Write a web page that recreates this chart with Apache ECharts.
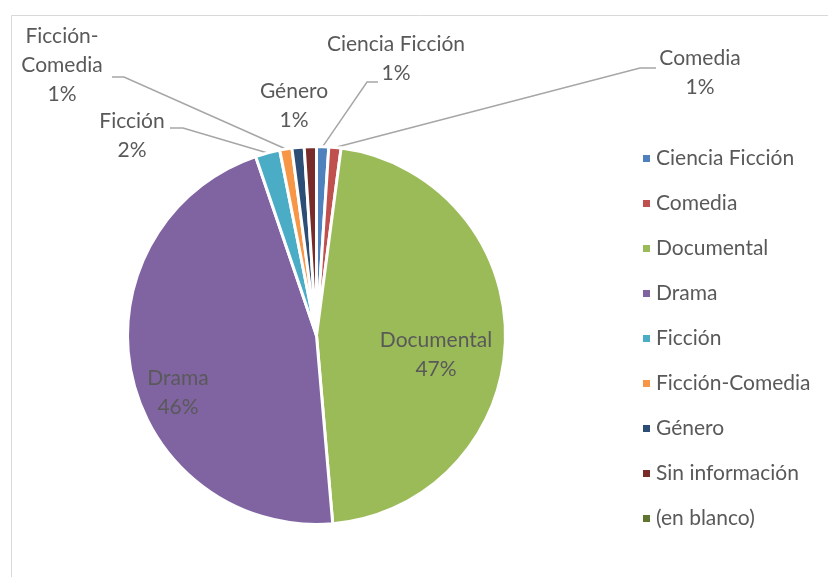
<!DOCTYPE html>
<html>
<head>
    <meta charset="utf-8">
    <title>Géneros</title>
    <script src="https://cdn.jsdelivr.net/npm/echarts@6/dist/echarts.min.js"></script>
    <style>
        html, body { margin: 0; padding: 0; background: #fff; }
        #chart { width: 828px; height: 577px; }
    </style>
</head>
<body>
<div id="chart"></div>
<script>
    // categorias (leyenda) y texto de etiqueta
    var categorias = ['Ciencia Ficción', 'Comedia', 'Documental', 'Drama', 'Ficción',
        'Ficción-Comedia', 'Género', 'Sin información', '(en blanco)'];
    var etiquetas = ['Ciencia Ficción', 'Comedia', 'Documental', 'Drama', 'Ficción',
        'Ficción-\nComedia', 'Género', 'Sin información', '(en blanco)'];
    // porcentaje aproximado
    var valores = [1.04, 1.04, 46.6, 46.2, 2.1, 1.04, 1.04, 1.04, 0];
    var colores = ['#4F81BD', '#C0504D', '#9BBB59', '#8064A2', '#4BACC6',
        '#F79646', '#2C4D75', '#772C2A', '#5F7530'];

    // donde va cada etiqueta (centro del texto)
    var posEtiqueta = {
        'Ciencia Ficción': [396, 59],
        'Comedia': [700, 73],
        'Documental': [436, 355],
        'Drama': [178, 393],
        'Ficción': [132, 136],
        'Ficción-Comedia': [62, 65],
        'Género': [294, 106]
    };
    // codo y final de la linea guia (el inicio lo pone la libreria en el sector)
    var codoLinea = {
        'Ciencia Ficción': [[367, 82], [378, 82]],
        'Comedia': [[640, 68], [656, 68]],
        'Ficción': [[183, 128], [170, 128]],
        'Ficción-Comedia': [[124, 77], [112, 77]]
    };
    var dentro = ['Documental', 'Drama'];
    var sinLinea = ['Género'];
    var ocultas = ['Sin información', '(en blanco)'];

    var fuente = 'Lato, "Open Sans", sans-serif';
    var gris = '#595959';

    var datos = categorias.map(function (c, i) {
        var item = { name: c, value: valores[i], itemStyle: { color: colores[i] } };
        if (ocultas.indexOf(c) >= 0) {
            item.label = { show: false };
            item.labelLine = { show: false };
        } else if (dentro.indexOf(c) >= 0) {
            item.label = { position: 'inside' };
            item.labelLine = { show: false };
        } else if (sinLinea.indexOf(c) >= 0) {
            item.labelLine = { show: false };
        }
        return item;
    });

    var myChart = echarts.init(document.getElementById('chart'));
    myChart.setOption({
        animation: false,
        graphic: [{
            type: 'rect',
            shape: { x: 11.5, y: 15.5, width: 900, height: 700 },
            style: { fill: 'none', stroke: '#D9D9D9', lineWidth: 1 },
            silent: true,
            z: -1
        }],
        legend: {
            orient: 'vertical',
            left: 636,
            top: 143,
            itemWidth: 9,
            itemHeight: 9,
            itemGap: 24,
            icon: 'rect',
            data: categorias,
            textStyle: { fontFamily: fuente, fontSize: 21, color: gris }
        },
        series: [{
            type: 'pie',
            center: [316.5, 335.5],
            radius: 189,
            startAngle: 90,
            clockwise: true,
            avoidLabelOverlap: false,
            data: datos,
            itemStyle: { borderColor: '#fff', borderWidth: 3 },
            label: {
                show: true,
                position: 'outside',
                fontFamily: fuente,
                fontSize: 21,
                lineHeight: 29,
                color: gris,
                align: 'center',
                formatter: function (p) {
                    return etiquetas[p.dataIndex] + '\n' + Math.round(p.percent) + '%';
                }
            },
            labelLine: {
                show: true,
                length: 20,
                length2: 10,
                lineStyle: { color: '#A6A6A6', width: 1.5 }
            },
            labelLayout: function (params) {
                var nombre = categorias[params.dataIndex];
                var p = posEtiqueta[nombre];
                if (!p) return {};
                var res = { x: p[0], y: p[1], align: 'center', verticalAlign: 'middle', hideOverlap: false };
                var codo = codoLinea[nombre];
                if (codo && params.labelLinePoints) {
                    res.labelLinePoints = [params.labelLinePoints[0]].concat(codo);
                }
                return res;
            },
            emphasis: { disabled: true }
        }]
    });
</script>
</body>
</html>
